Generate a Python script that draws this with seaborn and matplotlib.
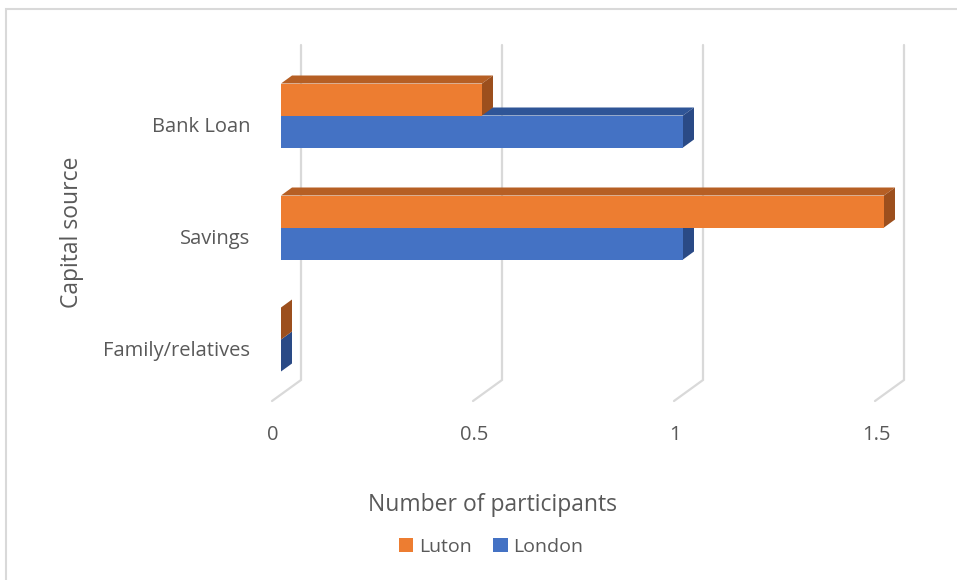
import matplotlib
matplotlib.use("Agg")
import matplotlib.pyplot as plt
import matplotlib.transforms as mtransforms
from matplotlib.patches import Polygon, Rectangle, Patch
import seaborn as sns
import pandas as pd

# ---- data ----
categories = ["Bank Loan", "Savings", "Family/relatives"]
luton = [0.5, 1.5, 0.0]
london = [1.0, 1.0, 0.0]
series_names = ["Luton", "London"]
x_ticks = [0, 0.5, 1, 1.5]
x_tick_labels = ["0", "0.5", "1", "1.5"]

df = pd.DataFrame({
    "Capital source": categories * 2,
    "Number of participants": luton + london,
    "City": [series_names[0]] * 3 + [series_names[1]] * 3,
})

colors = {"Luton": "#ED7D31", "London": "#4472C4"}
top_colors = {"Luton": "#B65F24", "London": "#2F5597"}
side_colors = {"Luton": "#9C4F1D", "London": "#2A4A86"}
text_color = "#595959"
grid_color = "#D9D9D9"

W, H = 957, 580
fig = plt.figure(figsize=(W / 100, H / 100), dpi=100)
sns.set_style("white")
plt.rcParams["font.family"] = ["Open Sans", "DejaVu Sans"]

# pixel geometry
px0 = 281.0          # x pixel of value 0 (front face)
ppu = 402.0          # pixels per unit
xmax = 1.6
ax_top, ax_bot = 40.0, 410.0
cat_px = 112.0       # pixels per category
c0 = 115.5           # pixel y of first category centre
ylim_top = -(c0 - ax_top) / cat_px
ylim_bot = 2 + (ax_bot - (c0 + 2 * cat_px)) / cat_px

ax = fig.add_axes([px0 / W, 1 - ax_bot / H, ppu * xmax / W, (ax_bot - ax_top) / H])

sns.barplot(data=df, y="Capital source", x="Number of participants", hue="City",
            hue_order=series_names, palette=colors, order=categories,
            width=64 / 112, orient="h", ax=ax, legend=False, saturation=1)

ax.set_xlim(0, xmax)
ax.set_ylim(ylim_bot, ylim_top)
for s in ax.spines.values():
    s.set_visible(False)
ax.patch.set_alpha(0)

dxu = 1.0 / ppu     # data units per pixel, x
dyu = 1.0 / cat_px  # data units per pixel, y

# gridlines with 3D floor
for v in x_ticks:
    xb = v + 20 * dxu
    xf = v - 9 * dxu
    yt = ylim_top + (45 - ax_top) * dyu
    yb = ylim_top + (380 - ax_top) * dyu
    yf = ylim_top + (401 - ax_top) * dyu
    ax.plot([xb, xb, xf], [yt, yb, yf], color=grid_color, lw=1.6, zorder=0,
            solid_joinstyle="miter", clip_on=False)

# 3D faces
ddx = 11 * dxu
ddy = -8 * dyu
patches_by_series = {}
n = len(categories)
bars = list(ax.patches)
for i, p in enumerate(bars):
    name = series_names[i // n]
    p.set_zorder(3)
    p.set_edgecolor("none")
    patches_by_series.setdefault(name, []).append(p)

for name in ["London", "Luton"]:
    for p in patches_by_series[name]:
        x0 = p.get_x()
        x1 = x0 + p.get_width()
        ytp = min(p.get_y(), p.get_y() + p.get_height())
        ybt = max(p.get_y(), p.get_y() + p.get_height())
        top = Polygon([(x0, ytp), (x1, ytp), (x1 + ddx, ytp + ddy), (x0 + ddx, ytp + ddy)],
                      closed=True, facecolor=top_colors[name], edgecolor="none", zorder=2)
        side = Polygon([(x1, ytp), (x1, ybt), (x1 + ddx, ybt + ddy), (x1 + ddx, ytp + ddy)],
                       closed=True, facecolor=side_colors[name], edgecolor="none", zorder=2)
        if x1 > x0:
            ax.add_patch(top)
        ax.add_patch(side)

# ticks
ax.set_xticks(x_ticks)
ax.set_xticklabels(x_tick_labels)
ax.tick_params(axis="x", length=0, pad=11, labelsize=14.5, labelcolor=text_color)
ax.tick_params(axis="y", length=0, pad=22.3, labelsize=14.5, labelcolor=text_color)
for lab in ax.get_xticklabels():
    lab.set_transform(lab.get_transform() + mtransforms.ScaledTranslation(-8 / 100, 0, fig.dpi_scale_trans))
for lab in ax.get_yticklabels():
    lab.set_transform(lab.get_transform() + mtransforms.ScaledTranslation(0, -9 / 100, fig.dpi_scale_trans))
ax.set_xlabel("")
ax.set_ylabel("")

# axis titles
fig.text(493 / W, 1 - 505 / H, "Number of participants", ha="center", va="center",
         fontsize=16.5, color=text_color)
fig.text(72 / W, 1 - 232 / H, "Capital source", ha="center", va="center",
         rotation=90, fontsize=16.5, color=text_color)

# legend
handles = [Patch(facecolor=colors[s], edgecolor="none") for s in series_names]
fig.legend(handles, series_names, loc="center", bbox_to_anchor=(491 / W, 1 - 547 / H),
           ncol=2, frameon=False, fontsize=14, handlelength=0.75, handleheight=0.75,
           handletextpad=0.3, columnspacing=1.1, labelcolor=text_color)

# chart border
fig.patches.append(Rectangle((6 / W, -0.1), 1.2, 1 - 9 / H + 0.1, transform=fig.transFigure,
                             fill=False, edgecolor=grid_color, lw=1.5))

fig.savefig("out.png", dpi=100, facecolor="white")
